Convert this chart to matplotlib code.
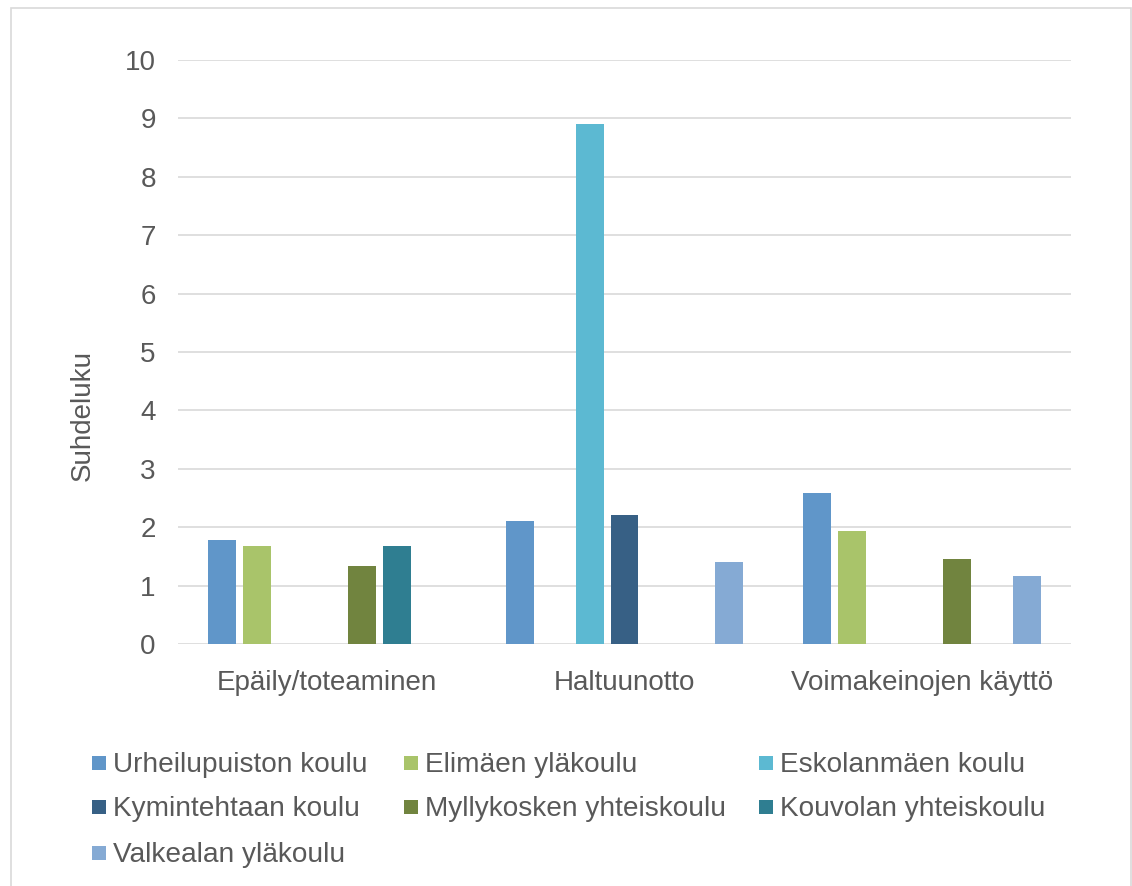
import matplotlib
matplotlib.use("Agg")
import matplotlib.pyplot as plt
from matplotlib.patches import Rectangle
import numpy as np

categories = ["Epäily/toteaminen", "Haltuunotto", "Voimakeinojen käyttö"]
schools = ["Urheilupuiston koulu", "Elimäen yläkoulu", "Eskolanmäen koulu",
           "Kymintehtaan koulu", "Myllykosken yhteiskoulu", "Kouvolan yhteiskoulu",
           "Valkealan yläkoulu"]
urheilupuisto = [1.78, 2.11, 2.59]
elimaki = [1.68, 0, 1.93]
eskolanmaki = [0, 8.9, 0]
kymintehdas = [0, 2.21, 0]
myllykoski = [1.34, 0, 1.46]
kouvola = [1.68, 0, 0]
valkeala = [0, 1.4, 1.16]
series = [urheilupuisto, elimaki, eskolanmaki, kymintehdas, myllykoski, kouvola, valkeala]
colors = ["#6096C9", "#A9C46A", "#5CB9D2", "#376085", "#71843F", "#2F7E91", "#85AAD4"]
yticks = list(range(0, 11))

plt.rcParams['font.family'] = ['Liberation Sans', 'DejaVu Sans']
txt = "#595959"
grid = "#d9d9d9"

fig = plt.figure(figsize=(11.32, 8.86), dpi=100)
ax = fig.add_axes([178/1132, 1-644/886, (1071-178)/1132, (644-60)/886])

x = np.arange(len(categories))
slot = 35/297.7
width = 28/297.7
for i, (vals, c) in enumerate(zip(series, colors)):
    ax.bar(x + (i-3)*slot, vals, width=width, color=c, zorder=3, label=schools[i])

ax.set_xlim(-0.5, 2.5)
ax.set_ylim(0, 10)
ax.set_yticks(yticks)
ax.set_yticklabels([str(t) for t in yticks])
ax.set_xticks(x)
ax.set_xticklabels(categories)
ax.tick_params(axis='both', length=0, labelsize=20, colors=txt)
ax.tick_params(axis='y', pad=16)
ax.tick_params(axis='x', pad=19)
for s in ax.spines.values():
    s.set_visible(False)
ax.yaxis.grid(True, color=grid, linewidth=1.2, zorder=0)
ax.set_axisbelow(True)
ax.set_ylabel("Suhdeluku", fontsize=20, color=txt)
ax.yaxis.set_label_coords(-0.092, 0.392)

# Legend laid out in rows like the original
col_x = [92, 404, 759]
row_y = [765, 809, 855]
for i, name in enumerate(schools):
    r, c = divmod(i, 3)
    px, py = col_x[c], row_y[r]
    fig.add_artist(Rectangle((px/1132, 1-(py+5)/886), 14/1132, 14/886,
                             transform=fig.transFigure, color=colors[i], lw=0))
    fig.text((px+21)/1132, 1-py/886, name, fontsize=20.2, color=txt,
             va='center', ha='left')

# chart border
fig.add_artist(Rectangle((10.5/1132, -0.02), (1131-10.5)/1132, 1-8/886+0.02,
                         transform=fig.transFigure, fill=False,
                         edgecolor=grid, lw=1.2))

fig.savefig("out.png", dpi=100, facecolor="white")
